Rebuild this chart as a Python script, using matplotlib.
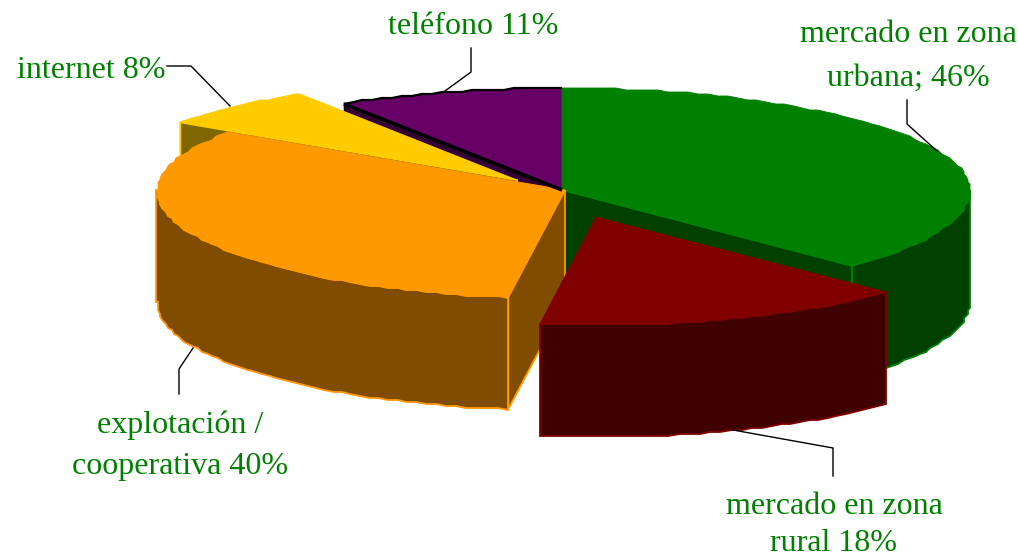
import matplotlib
matplotlib.use("Agg")
import matplotlib.pyplot as plt
import numpy as np
from matplotlib.patches import Polygon

categories = ["mercado en zona\nurbana; 46%", "mercado en zona\nrural 18%",
              "explotación /\ncooperativa 40%", "internet 8%", "teléfono 11%"]
values = [46, 18, 40, 8, 11]

# drawing order: back to front
draw_order = [4, 0, 3, 2, 1]

TOP_COLORS = ["#008000", "#800000", "#FF9900", "#FFCC00", "#660066"]
SIDE_COLORS = ["#004000", "#400000", "#804C00", "#806600", "#330033"]
EDGE_COLORS = ["#008000", "#800000", "#FF9900", "#FFCC00", "#000000"]
TEXT_COLOR = "#008000"

# slice apex in pixels, this is the "explosion" of the pie
apex_x = [562, 596, 565, 517, 562]
apex_y = [190, 217, 190, 180, 190]
RX, RY_BACK, RY_FRONT, DEPTH = 408, 102, 108, 112
GRID = 2.0  # the original outline is a rough, stepped polyline

label_x = [908, 834, 180, 91, 473]
label_y = [56, 525, 446, 71, 27]
label_spacing = [1.68, 1.33, 1.55, 1.3, 1.3]
leaders = [
    ([907, 907, 937], [100, 124, 151]),
    ([833, 833, 733], [476, 448, 430]),
    ([179, 179, 193], [394, 369, 348]),
    ([167, 191, 230], [66, 66, 106]),
    ([471, 471, 445], [48, 72, 91]),
]

plt.rcParams["font.family"] = ["Liberation Serif", "DejaVu Serif"]


def rim(cx, cy, ang):
    t = np.radians(ang)
    c = np.cos(t)
    ry = np.where(c > 0, RY_BACK, RY_FRONT)
    # front of the pie leans a little to the left in the original
    x = cx + RX * np.sin(t) - 5 * np.clip(-c, 0, 1) ** 6
    return x, cy - ry * c


def arc(cx, cy, a0, a1):
    ang = np.array(np.arange(a0, a1, 1.5).tolist() + [a1])
    x, y = rim(cx, cy, ang)
    x = np.round(x / GRID) * GRID
    y = np.round(y / GRID) * GRID
    return np.column_stack([x, y])


def draw_slice(ax, i, a0, a1):
    cx, cy = apex_x[i], apex_y[i]
    side, edge = SIDE_COLORS[i], EDGE_COLORS[i]
    kw = dict(closed=True, facecolor=side, edgecolor=edge, linewidth=1.3, joinstyle="miter")
    down = np.array([0, DEPTH])

    # flat cut faces that look towards the viewer
    for ang, normal in ((a0, a0 - 90), (a1, a1 + 90)):
        if np.cos(np.radians(normal)) < -1e-6:
            p = np.array(rim(cx, cy, ang), dtype=float)
            c = np.array([cx, cy])
            ax.add_patch(Polygon([c, p, p + down, c + down], **kw))

    # outer wall, front half only
    lo, hi = max(a0, 90), min(a1, 270)
    if hi > lo:
        pts = arc(cx, cy, lo, hi)
        ax.add_patch(Polygon(np.vstack([pts, pts[::-1] + down]), **kw))

    pts = arc(cx, cy, a0, a1)
    ax.add_patch(Polygon(np.vstack([[cx, cy], pts]), closed=True, facecolor=TOP_COLORS[i],
                         edgecolor=TOP_COLORS[i], linewidth=0.6))
    if edge == "#000000":
        # only the rim and the cut edge carry the black outline
        ax.plot(pts[:, 0], pts[:, 1], color=edge, linewidth=1.6, solid_capstyle="butt")
        ax.plot([cx, pts[0, 0]], [cy, pts[0, 1]], color=edge, linewidth=2.6, solid_capstyle="butt")


fig = plt.figure(figsize=(10.18, 5.59), dpi=100, facecolor="white")
ax = fig.add_axes([0, 0, 1, 1])
ax.set_xlim(0, 1018)
ax.set_ylim(559, 0)
ax.axis("off")

shares = np.array(values, dtype=float) / sum(values) * 360
ends = np.cumsum(shares)
starts = ends - shares

for i in draw_order:
    draw_slice(ax, i, starts[i], ends[i])

for (lx, ly) in leaders:
    ax.plot(lx, ly, color="#000000", linewidth=1.0, solid_joinstyle="miter")

for name, x, y, sp in zip(categories, label_x, label_y, label_spacing):
    ax.text(x, y, name, color=TEXT_COLOR, fontsize=23, ha="center", va="center", linespacing=sp)

fig.savefig("out.png", dpi=100)
